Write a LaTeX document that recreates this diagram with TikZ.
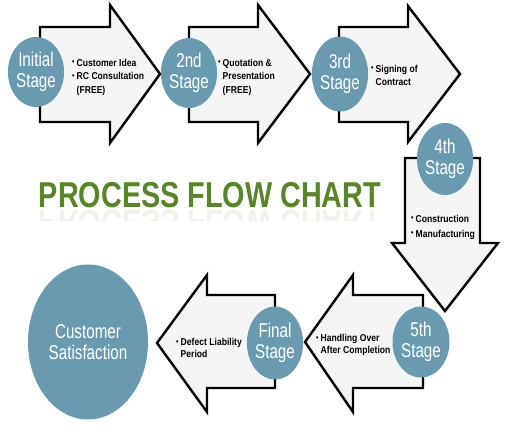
\documentclass[tikz,border=0pt]{standalone}
\usepackage{fontspec}
\setmainfont{Liberation Sans}
\newfontfamily\stagefont[FakeStretch=0.76]{Liberation Sans}
\newfontfamily\notefont[FakeStretch=0.86]{Liberation Sans}
\newfontfamily\titlefont[FakeStretch=0.80]{Liberation Sans}
\usetikzlibrary{shapes.geometric}
\definecolor{stageblue}{RGB}{106,154,174}
\definecolor{titlegreen}{RGB}{88,134,38}
\definecolor{arrowfill}{RGB}{245,245,245}
\newcommand\bt{\makebox[4.5pt][l]{\raisebox{1.2pt}{\scalebox{0.8}{•}}}}
\newcommand\ind{\hspace*{4.5pt}}
\begin{document}
\begin{tikzpicture}[x=1pt,y=-1pt,
  arrowshape/.style={draw=black, line width=2.4pt, fill=arrowfill, line join=miter},
  stage/.style={ellipse, fill=stageblue, text=white, inner sep=0pt,
    font=\stagefont\fontsize{20}{21}\selectfont, align=center},
  note/.style={anchor=west, inner sep=0pt, align=left,
    font=\notefont\bfseries\fontsize{10}{13.5}\selectfont},
  titletext/.style={anchor=base, inner sep=0pt, text=titlegreen,
    font=\titlefont\bfseries\fontsize{36}{36}\selectfont}
]
\useasboundingbox (0,0) rectangle (515,438);
\fill[white] (0,0) rectangle (515,438);

% arrows
\draw[arrowshape] (40,27) -- (110,27) -- (110,5) -- (160,74) -- (110,143) -- (110,122) -- (40,122) -- cycle;
\draw[arrowshape] (189,27) -- (258,27) -- (258,5) -- (310,74) -- (258,143) -- (258,122) -- (189,122) -- cycle;
\draw[arrowshape] (339,27) -- (408,27) -- (408,6) -- (460,74) -- (408,142) -- (408,122) -- (339,122) -- cycle;
\draw[arrowshape] (405,158) -- (480,158) -- (480,243) -- (498,243) -- (445,311) -- (392,243) -- (405,243) -- cycle;
\draw[arrowshape] (423,295) -- (353,295) -- (353,275) -- (305,342) -- (353,412) -- (353,388) -- (423,388) -- cycle;
\draw[arrowshape] (275,295) -- (207,295) -- (207,275) -- (157,343) -- (207,412) -- (207,388) -- (275,388) -- cycle;

% stage circles
\node[stage, minimum width=48pt, minimum height=70pt] (s1) at (36,72) {Initial\\Stage};
\node[stage, minimum width=55pt, minimum height=70pt] (s2) at (189,73) {2nd\\Stage};
\node[stage, minimum width=56pt, minimum height=75pt] (s3) at (340,74) {3rd\\Stage};
\node[stage, minimum width=56pt, minimum height=72pt] (s4) at (445,159) {4th\\Stage};
\node[stage, minimum width=57pt, minimum height=71pt] (s5) at (421,342) {5th\\Stage};
\node[stage, minimum width=56pt, minimum height=73pt] (s6) at (275,343) {Final\\Stage};
\node[stage, minimum width=120pt, minimum height=155pt,
  font=\stagefont\fontsize{20}{20.5}\selectfont] (cs) at (88,342) {Customer\\Satisfaction};

% notes
\node[note] (n1) at (72,77) {\bt Customer Idea\\\bt RC Consultation\\\ind(FREE)};
\node[note] (n2) at (218,77) {\bt Quotation \&\\\ind Presentation\\\ind(FREE)};
\node[note, font=\notefont\bfseries\fontsize{10}{13}\selectfont] (n3) at (371,75) {\bt Signing of\\\ind Contract};
\node[note, font=\notefont\bfseries\fontsize{10}{15}\selectfont] (n4) at (411,227) {\bt Construction\\\bt Manufacturing};
\node[note, font=\notefont\bfseries\fontsize{10}{12.5}\selectfont] (n5) at (316,345) {\bt Handling Over\\\ind After Completion};
\node[note, font=\notefont\bfseries\fontsize{10}{12}\selectfont] (n6) at (176,348) {\bt Defect Liability\\\ind Period};

% title with faint reflection
\node[titletext] (title) at (210,208) {PROCESS FLOW CHART};
\begin{scope}
  \clip (0,210) rectangle (515,221);
  \node[titletext, opacity=0.09] (titlerefl) at (210,211) {\scalebox{1}[-1]{PROCESS FLOW CHART}};
\end{scope}
\end{tikzpicture}
\end{document}
